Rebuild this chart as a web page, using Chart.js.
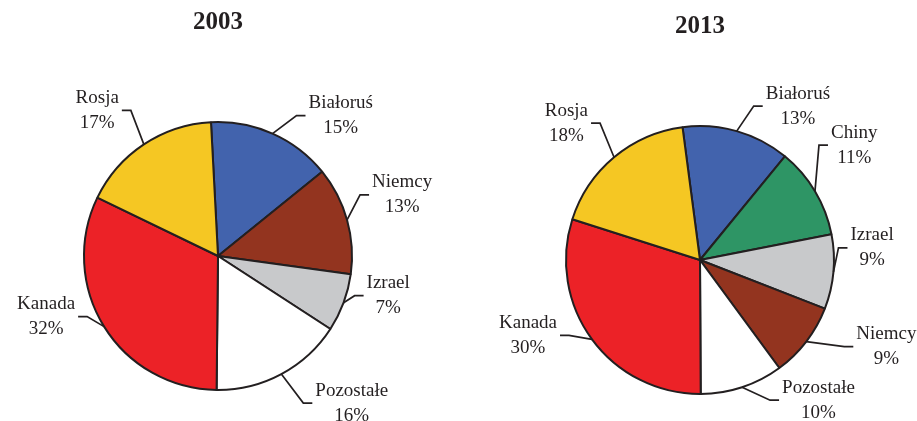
<!DOCTYPE html>
<html lang="pl">
<head>
<meta charset="utf-8">
<title>2003 / 2013</title>
<script src="https://cdn.jsdelivr.net/npm/chart.js@4"></script>
<style>
  html, body { margin: 0; padding: 0; background: #fff; }
  #wrap { position: relative; width: 917px; height: 421px; overflow: hidden; }
  canvas { position: absolute; top: 0; }
  #pie2003 { left: 0; }
  #pie2013 { left: 458px; }
</style>
</head>
<body>
<div id="wrap">
  <canvas id="pie2003" width="458" height="421"></canvas>
  <canvas id="pie2013" width="459" height="421"></canvas>
</div>
<script>
// values (clockwise from the top)
const labels2003 = ['Białoruś', 'Niemcy', 'Izrael', 'Pozostałe', 'Kanada', 'Rosja'];
const values2003 = [15, 13, 7, 16, 32, 17];

const labels2013 = ['Białoruś', 'Chiny', 'Izrael', 'Niemcy', 'Pozostałe', 'Kanada', 'Rosja'];
const values2013 = [13, 11, 9, 9, 10, 30, 18];

// colours per country
const sliceColors = {
    'Białoruś': '#4263ad',
    'Niemcy': '#93341f',
    'Izrael': '#c8c9cb',
    'Pozostałe': '#ffffff',
    'Kanada': '#ec2227',
    'Rosja': '#f5c723',
    'Chiny': '#2e9565'
};

// where each leader line bends, relative to the slice edge (px)
const elbows2003 = [[24, -18], [13, -25], [11, -7], [22, 29], [-17, -10], [-13, -34]];
const elbows2013 = [[17, -25], [4, -46], [5, -24], [38, 5], [28, 13], [-23, -4], [-14, -34]];

const INK = '#231f20';
const SERIF = '"Liberation Serif", "Times New Roman", serif';

Chart.defaults.font.family = SERIF;
Chart.defaults.color = INK;

// labels outside the pie with a bent leader line
function makeCallouts(elbows) {
    return {
        id: 'callouts',
        afterDatasetsDraw(chart) {
            const ctx = chart.ctx;
            const meta = chart.getDatasetMeta(0);
            const values = chart.data.datasets[0].data;
            ctx.save();
            ctx.strokeStyle = INK;
            ctx.lineWidth = 1.7;
            ctx.fillStyle = INK;
            ctx.font = '19px ' + SERIF;
            ctx.textAlign = 'center';
            ctx.textBaseline = 'middle';
            meta.data.forEach((arc, i) => {
                const { x, y, startAngle, endAngle, outerRadius } =
                    arc.getProps(['x', 'y', 'startAngle', 'endAngle', 'outerRadius'], true);
                const mid = (startAngle + endAngle) / 2;
                const px = x + Math.cos(mid) * outerRadius;
                const py = y + Math.sin(mid) * outerRadius;
                const ex = px + elbows[i][0], ey = py + elbows[i][1];
                const dir = ex >= x ? 1 : -1;
                const hx = ex + dir * 9;
                ctx.beginPath();
                ctx.moveTo(px, py);
                ctx.lineTo(ex, ey);
                ctx.lineTo(hx, ey);
                ctx.stroke();

                const lines = [chart.data.labels[i], values[i] + '%'];
                const w = Math.max(...lines.map(t => ctx.measureText(t).width));
                const cx = hx + dir * (3 + w / 2);
                ctx.fillText(lines[0], cx, ey - 12.5);
                ctx.fillText(lines[1], cx, ey + 12.5);
            });
            ctx.restore();
        }
    };
}

function drawPie(id, title, labels, values, elbows, rotation, padding, titlePad) {
    return new Chart(document.getElementById(id), {
        type: 'pie',
        data: {
            labels: labels,
            datasets: [{
                data: values,
                backgroundColor: labels.map(l => sliceColors[l]),
                borderColor: INK,
                borderWidth: 2,
                hoverOffset: 0
            }]
        },
        options: {
            responsive: false,
            animation: false,
            rotation: rotation,
            layout: { padding: padding },
            events: [],
            plugins: {
                legend: { display: false },
                tooltip: { enabled: false },
                title: {
                    display: true,
                    text: title,
                    color: INK,
                    font: { family: SERIF, size: 25, weight: 'bold' },
                    padding: titlePad
                }
            }
        },
        plugins: [makeCallouts(elbows)]
    });
}

drawPie('pie2003', '2003', labels2003, values2003, elbows2003, -3,
    { left: 83, right: 105, top: 0, bottom: 30 }, { top: 8, bottom: 83 });
drawPie('pie2013', '2013', labels2013, values2013, elbows2013, -7.5,
    { left: 107, right: 82, top: 0, bottom: 26 }, { top: 12, bottom: 83 });
</script>
</body>
</html>
